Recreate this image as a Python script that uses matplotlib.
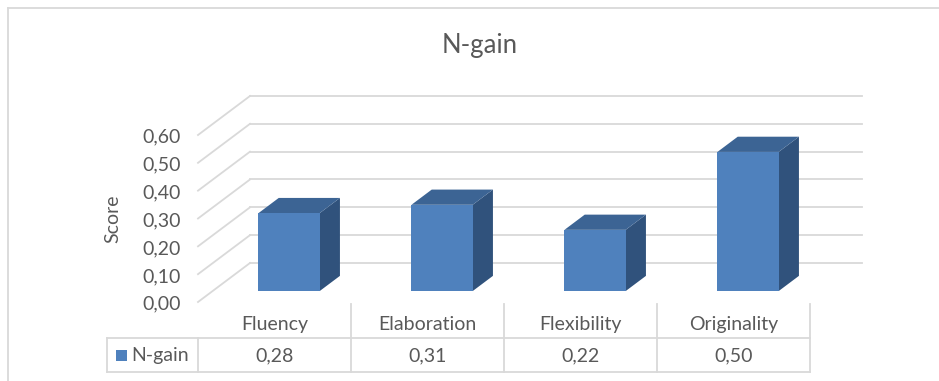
import matplotlib.pyplot as plt
from matplotlib.patches import Polygon, Rectangle

categories = ['Fluency', 'Elaboration', 'Flexibility', 'Originality']
values = [0.28, 0.31, 0.22, 0.50]
series_name = 'N-gain'
yticks = [0.0, 0.1, 0.2, 0.3, 0.4, 0.5, 0.6]

W, H = 939, 381
text_col = '#595959'
grid_col = '#D9D9D9'
front_col = '#4F81BD'
top_col = '#3C6494'
side_col = '#30527C'
fs = 14

plt.rcParams['font.family'] = ['Lato', 'DejaVu Sans']

fig = plt.figure(figsize=(W / 100, H / 100), dpi=100)
# front plane of the 3d box: x 0..4 -> px 198..810, y 0..0.6 -> px 302..135
ax = fig.add_axes([198 / W, (H - 302) / H, 612 / W, 167 / H])
ax.set_xlim(0, len(categories))
ax.set_ylim(0, 0.6)
ax.axis('off')

# depth offset of the back wall, in data units
DX, DY = 52 / 153, 39 / 278.3


def px_y(py):
    return (302 - py) / 278.3


def px_x(px):
    return (px - 198) / 153


# gridlines: diagonal on the left wall + horizontal on the back wall
for v in yticks:
    ax.plot([0, DX], [v, v + DY], color=grid_col, lw=1.3, clip_on=False, zorder=1)
    ax.plot([DX, len(categories) + DX], [v + DY, v + DY], color=grid_col, lw=1.3,
            clip_on=False, zorder=1)
    ax.text(px_x(181), v - 0.008, f'{v:.2f}'.replace('.', ','), ha='right', va='center',
            fontsize=fs, color=text_col)

ax.text(px_x(113), px_y(219), 'Score', rotation=90, ha='center', va='center',
        fontsize=fs, color=text_col)

# 3d columns
f0, f1 = 0.28, 0.67
bw = 0.4
for i, v in enumerate(values):
    x0 = i + 0.5 - bw / 2 + f0 * DX
    x1 = x0 + bw
    y0 = f0 * DY
    y1 = y0 + v
    ox, oy = (f1 - f0) * DX, (f1 - f0) * DY
    side = [(x1, y0), (x1 + ox, y0 + oy), (x1 + ox, y1 + oy), (x1, y1)]
    top = [(x0, y1), (x1, y1), (x1 + ox, y1 + oy), (x0 + ox, y1 + oy)]
    ax.add_patch(Polygon(side, closed=True, fc=side_col, ec='none', zorder=3, clip_on=False))
    ax.add_patch(Polygon(top, closed=True, fc=top_col, ec='none', zorder=3, clip_on=False))
    ax.add_patch(Rectangle((x0, y0), bw, v, fc=front_col, ec='none', zorder=4, clip_on=False))

# data table below the plot
r_top, r_mid, r_bot = px_y(304), px_y(338), px_y(372)
x_left = px_x(107)
n = len(categories)
for i in range(n + 1):
    ax.plot([i, i], [r_top if i > 0 else r_mid, r_bot], color=grid_col, lw=1.3, clip_on=False)
ax.plot([x_left, x_left], [r_mid, r_bot], color=grid_col, lw=1.3, clip_on=False)
ax.plot([x_left, n], [r_mid, r_mid], color=grid_col, lw=1.3, clip_on=False)
ax.plot([x_left, n], [r_bot, r_bot], color=grid_col, lw=1.3, clip_on=False)

for i, (c, v) in enumerate(zip(categories, values)):
    ax.text(i + 0.5, px_y(324), c, ha='center', va='center', fontsize=fs, color=text_col)
    ax.text(i + 0.5, px_y(356), f'{v:.2f}'.replace('.', ','), ha='center', va='center',
            fontsize=fs, color=text_col)

ax.add_patch(Rectangle((px_x(116), px_y(361)), 11 / 153, 11 / 278.3, fc=front_col, ec='none',
                       clip_on=False))
ax.text(px_x(131), px_y(355), series_name, ha='left', va='center', fontsize=fs, color=text_col)

fig.text(480 / W, 1 - 46 / H, 'N-gain', ha='center', va='center', fontsize=18.5, color=text_col)

# chart outer border (top and left edges visible)
fig.add_artist(plt.Line2D([8 / W, 1], [1 - 8 / H, 1 - 8 / H], color=grid_col, lw=1.3,
                          transform=fig.transFigure))
fig.add_artist(plt.Line2D([8 / W, 8 / W], [0, 1 - 8 / H], color=grid_col, lw=1.3,
                          transform=fig.transFigure))

fig.savefig('out.png', dpi=100, facecolor='white')
